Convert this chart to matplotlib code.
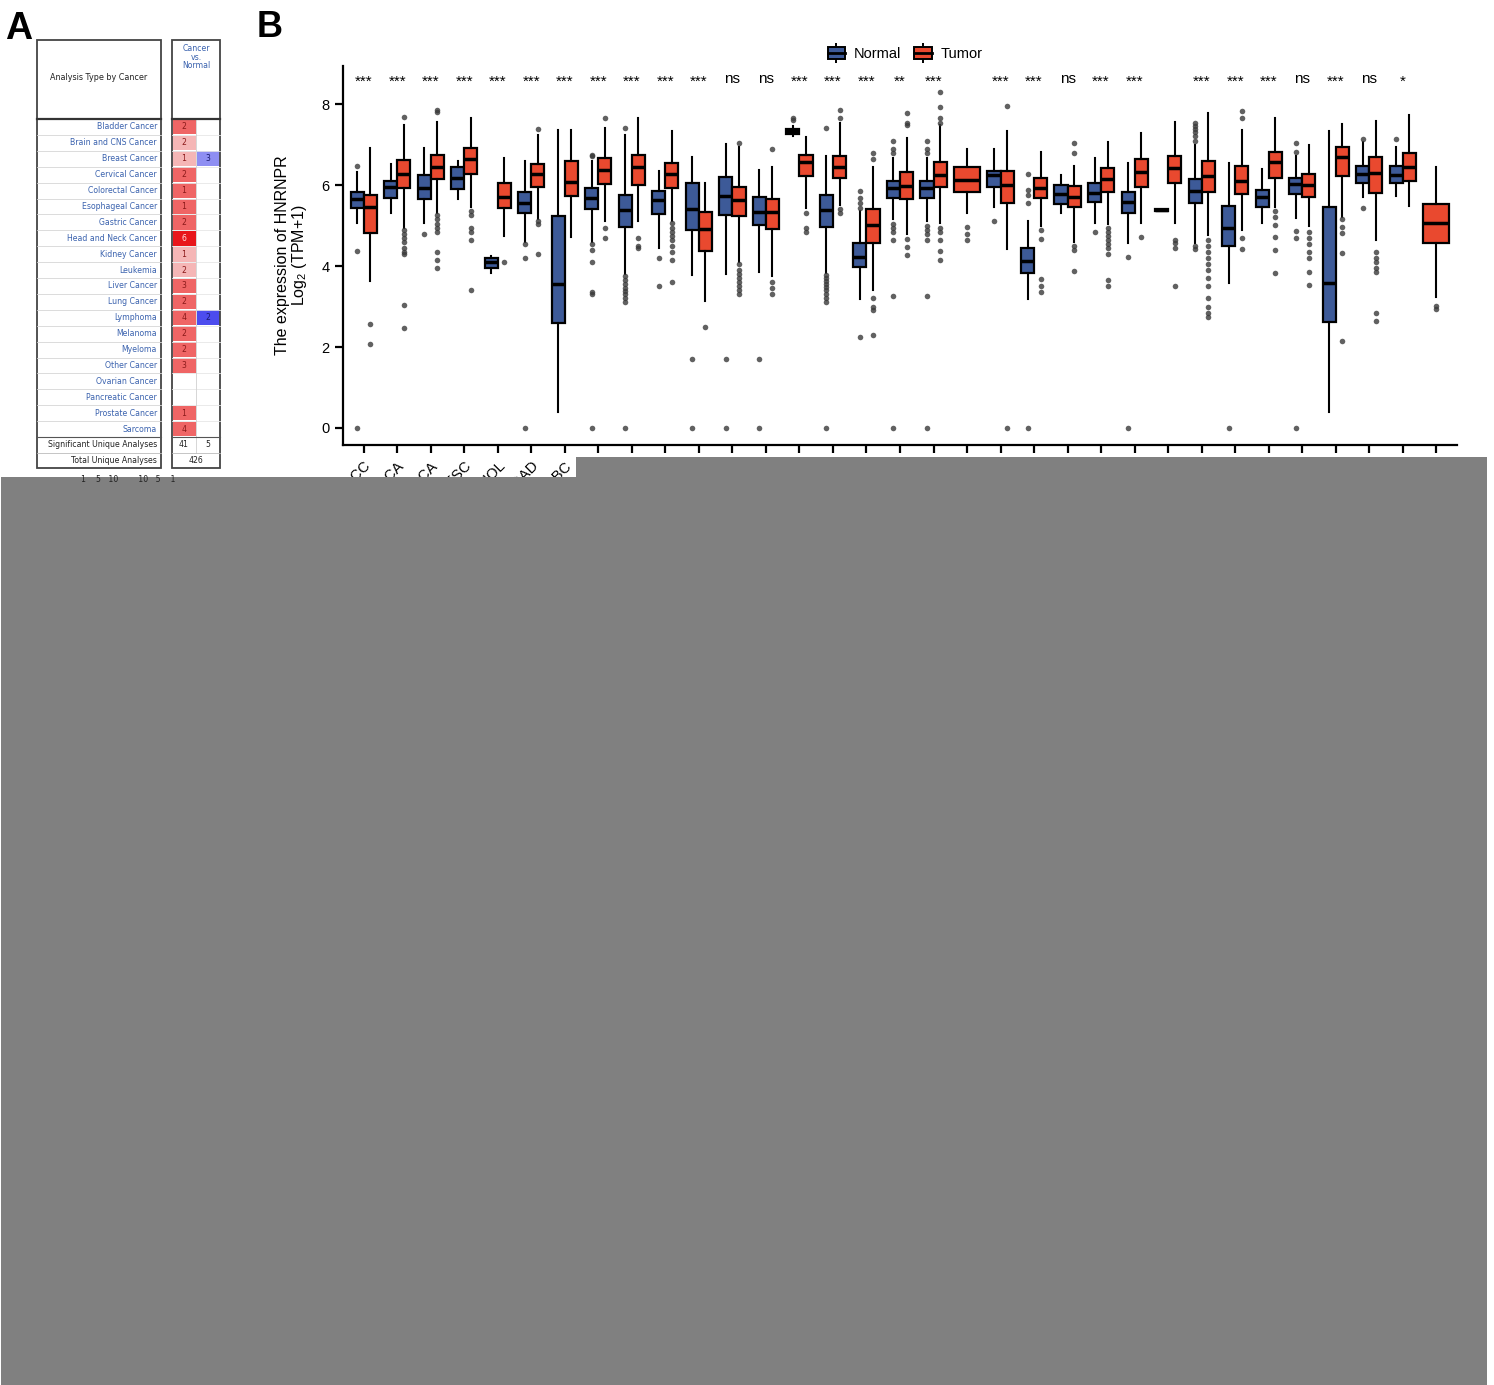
import matplotlib.pyplot as plt
from matplotlib.patches import Rectangle, Patch
from matplotlib.lines import Line2D

plt.rcParams['font.family'] = ['Liberation Sans', 'DejaVu Sans']
plt.rcParams['mathtext.default'] = 'regular'

# ---------------- data: panel B (TCGA boxplots) ----------------
cancers = ['ACC', 'BLCA', 'BRCA', 'CESC', 'CHOL', 'COAD', 'DLBC', 'ESCA', 'GBM', 'HNSC', 'KICH',
           'KIRC', 'KIRP', 'LAML', 'LGG', 'LIHC', 'LUAD', 'LUSC', 'MESO', 'OV', 'PAAD', 'PCPG',
           'PRAD', 'READ', 'SARC', 'SKCM', 'STAD', 'TGCT', 'THCA', 'THYM', 'UCEC', 'UCS', 'UVM']
sig_labels = ['***'] * 11 + ['ns', 'ns', '***', '***', '***', '**', '***', '', '***', '***', 'ns',
                             '***', '***', '', '***', '***', '***', 'ns', '***', 'ns', '*', '']

# [whisker low, Q1, median, Q3, whisker high]
normal_box = [
    [5.06, 5.43, 5.65, 5.83, 6.32], [5.30, 5.68, 5.95, 6.10, 6.52], [5.06, 5.65, 5.93, 6.25, 6.91],
    [5.65, 5.90, 6.17, 6.44, 6.60], [3.83, 3.95, 4.10, 4.20, 4.25], [4.60, 5.30, 5.56, 5.83, 6.60],
    [0.40, 2.60, 3.56, 5.24, 7.35], [4.60, 5.40, 5.68, 5.93, 6.60], [3.80, 4.97, 5.38, 5.75, 7.23],
    [4.44, 5.28, 5.63, 5.85, 6.35], [3.78, 4.89, 5.40, 6.05, 6.69], [3.80, 5.26, 5.73, 6.20, 7.01],
    [3.85, 5.01, 5.33, 5.70, 6.37], [7.22, 7.27, 7.33, 7.38, 7.45], [3.83, 4.97, 5.38, 5.75, 6.72],
    [3.18, 3.98, 4.22, 4.57, 5.35], [5.15, 5.68, 5.93, 6.10, 6.67], [5.10, 5.68, 5.93, 6.10, 6.67],
    None, [5.46, 5.95, 6.25, 6.35, 6.89], [3.18, 3.83, 4.12, 4.44, 5.11], [5.30, 5.53, 5.78, 6.00, 6.25],
    [5.06, 5.58, 5.80, 6.05, 6.67], [4.57, 5.30, 5.58, 5.83, 6.54], [5.36, 5.36, 5.39, 5.42, 5.42],
    [4.57, 5.56, 5.85, 6.15, 6.99], [3.58, 4.50, 4.94, 5.48, 6.54], [5.06, 5.46, 5.70, 5.88, 6.40],
    [5.19, 5.78, 6.02, 6.17, 6.72], [0.40, 2.62, 3.58, 5.46, 7.33], [5.70, 6.05, 6.27, 6.47, 7.06],
    [5.73, 6.05, 6.25, 6.47, 6.94], None,
]
normal_out = [
    [6.47, 4.37, 0], [], [4.8], [], [], [4.55, 4.2, 0], [],
    [6.72, 6.75, 4.55, 4.4, 4.1, 3.35, 3.3, 0],
    [7.4, 3.75, 3.65, 3.55, 3.45, 3.38, 3.3, 3.2, 3.12, 0],
    [4.2, 3.5], [1.7, 0], [1.7, 0], [1.7, 0], [7.6, 7.65],
    [7.41, 3.78, 3.7, 3.62, 3.55, 3.48, 3.4, 3.3, 3.2, 3.12, 0],
    [5.43, 5.56, 5.68, 5.85, 2.25],
    [7.1, 6.9, 6.8, 5.05, 4.95, 4.85, 4.64, 3.26, 0],
    [7.1, 6.9, 6.8, 5.0, 4.9, 4.8, 4.64, 3.26, 0],
    [], [5.11], [6.27, 5.88, 5.75, 5.56, 0], [], [4.84], [4.22, 0], [],
    [7.53, 7.45, 7.38, 7.3, 7.2, 7.1, 4.5, 4.42], [0], [],
    [7.04, 6.81, 4.86, 4.69, 0], [], [7.14, 5.43], [7.14], [],
]
tumor_box = [
    [3.63, 4.81, 5.46, 5.75, 6.91], [4.95, 5.92, 6.27, 6.62, 7.48], [5.30, 6.15, 6.45, 6.75, 7.55],
    [5.45, 6.27, 6.64, 6.91, 7.65], [4.74, 5.43, 5.70, 6.05, 6.67], [5.15, 5.95, 6.27, 6.52, 7.23],
    [4.72, 5.73, 6.08, 6.60, 7.35], [5.10, 6.02, 6.37, 6.67, 7.41], [5.10, 6.00, 6.44, 6.74, 7.65],
    [5.10, 5.93, 6.27, 6.54, 7.33], [3.14, 4.37, 4.91, 5.33, 6.05], [4.10, 5.23, 5.63, 5.95, 6.95],
    [3.75, 4.91, 5.33, 5.65, 6.44], [5.43, 6.22, 6.57, 6.74, 7.19], [5.50, 6.17, 6.44, 6.72, 7.53],
    [3.41, 4.57, 5.01, 5.41, 6.45], [4.79, 5.65, 5.98, 6.32, 7.16], [5.06, 5.95, 6.25, 6.57, 7.48],
    [5.30, 5.83, 6.12, 6.44, 6.89], [4.42, 5.56, 6.00, 6.35, 7.33], [5.00, 5.68, 5.93, 6.17, 6.81],
    [4.60, 5.46, 5.70, 5.98, 6.47], [5.05, 5.83, 6.15, 6.42, 7.06], [5.06, 5.95, 6.32, 6.64, 7.28],
    [5.06, 6.05, 6.42, 6.72, 7.55], [4.77, 5.83, 6.22, 6.59, 7.78], [4.90, 5.78, 6.10, 6.47, 7.36],
    [5.46, 6.17, 6.57, 6.81, 7.65], [5.00, 5.70, 6.00, 6.27, 6.99], [5.21, 6.22, 6.69, 6.94, 7.50],
    [4.64, 5.80, 6.30, 6.69, 7.58], [5.48, 6.10, 6.44, 6.79, 7.73], [3.24, 4.57, 5.06, 5.53, 6.44],
]
tumor_out = [
    [2.56, 2.07],
    [7.68, 4.88, 4.8, 4.7, 4.6, 4.45, 4.35, 4.3, 3.03, 2.48],
    [7.8, 7.85, 5.25, 5.15, 5.05, 4.95, 4.85, 4.35, 4.15, 3.95],
    [5.35, 5.25, 4.95, 4.85, 4.65, 3.4],
    [4.1], [7.38, 5.1, 5.05, 4.3], [], [7.65, 4.95, 4.7], [4.7, 4.5, 4.45],
    [5.06, 4.95, 4.85, 4.75, 4.65, 4.5, 4.35, 4.15, 3.6],
    [2.49], [7.04, 4.05, 3.9, 3.8, 3.7, 3.6, 3.5, 3.4, 3.3], [6.89, 3.6, 3.45, 3.3],
    [5.3, 4.95, 4.85], [7.65, 7.85, 5.4, 5.3], [6.79, 6.64, 3.2, 2.99, 2.91, 2.3],
    [7.48, 7.53, 7.78, 4.67, 4.47, 4.27],
    [8.3, 7.93, 7.65, 7.53, 4.95, 4.84, 4.64, 4.37, 4.15],
    [4.96, 4.79, 4.64], [7.95, 0], [4.89, 4.67, 3.68, 3.51, 3.36],
    [7.04, 6.79, 4.5, 4.4, 3.88],
    [4.95, 4.85, 4.75, 4.65, 4.55, 4.45, 4.3, 3.65, 3.5],
    [4.72], [4.64, 4.57, 4.44, 3.51],
    [4.64, 4.5, 4.35, 4.2, 4.05, 3.9, 3.7, 3.5, 3.2, 3.0, 2.85, 2.74],
    [7.65, 7.83, 4.7, 4.42], [5.35, 5.21, 5.01, 4.72, 4.4, 3.83],
    [4.84, 4.7, 4.55, 4.35, 4.2, 3.85, 3.53], [5.16, 4.96, 4.81, 4.32, 2.15],
    [4.35, 4.2, 4.1, 3.95, 3.85, 2.84, 2.64], [], [3.01, 2.95],
]

# ---------------- data: panel A (Oncomine summary) ----------------
onco_types = ['Bladder Cancer', 'Brain and CNS Cancer', 'Breast Cancer', 'Cervical Cancer',
              'Colorectal Cancer', 'Esophageal Cancer', 'Gastric Cancer', 'Head and Neck Cancer',
              'Kidney Cancer', 'Leukemia', 'Liver Cancer', 'Lung Cancer', 'Lymphoma', 'Melanoma',
              'Myeloma', 'Other Cancer', 'Ovarian Cancer', 'Pancreatic Cancer', 'Prostate Cancer',
              'Sarcoma']
up_counts = [2, 2, 1, 2, 1, 1, 2, 6, 1, 2, 3, 2, 4, 2, 2, 3, None, None, 1, 4]
up_rank = [5, 10, 10, 5, 5, 5, 5, 1, 10, 10, 5, 5, 5, 5, 5, 5, None, None, 5, 5]
down_counts = [None, None, 3, None, None, None, None, None, None, None, None, None, 2,
               None, None, None, None, None, None, None]
down_rank = [None, None, 10, None, None, None, None, None, None, None, None, None, 5,
             None, None, None, None, None, None, None]
sig_up, sig_down, total_analyses = 41, 5, 426

NORMAL_COL = '#3D5A98'
TUMOR_COL = '#E9492F'
RED_SHADE = {1: '#E8161B', 5: '#EF6565', 10: '#F5B6B6'}
BLUE_SHADE = {5: '#4C4CEE', 10: '#8E8EF2'}
LINK = '#3A62AE'

W, H = 1494, 1385
fig = plt.figure(figsize=(W / 100, H / 100), dpi=100)

# ---------------- panel B ----------------
ax = fig.add_axes([343 / W, 1 - 445 / H, (1457 - 343) / W, (445 - 66) / H])

for i in range(len(cancers)):
    groups = [(normal_box[i], normal_out[i], NORMAL_COL), (tumor_box[i], tumor_out[i], TUMOR_COL)]
    present = [g for g in groups if g[0] is not None]
    if len(present) == 2:
        pos, w = [i - 0.195, i + 0.195], 0.39
    else:
        pos, w = [i], 0.78
    for p, (b, o, col) in zip(pos, present):
        st = dict(whislo=b[0], q1=b[1], med=b[2], q3=b[3], whishi=b[4], fliers=o)
        ax.bxp([st], positions=[p], widths=w, patch_artist=True, showcaps=False,
               boxprops=dict(facecolor=col, edgecolor='black', linewidth=1.6),
               medianprops=dict(color='black', linewidth=2.5),
               whiskerprops=dict(color='black', linewidth=1.5),
               flierprops=dict(marker='o', markersize=4, markerfacecolor='#3a3a3a',
                               markeredgecolor='none', alpha=0.8),
               manage_ticks=False)

for i, s in enumerate(sig_labels):
    if s:
        ax.text(i, 8.62 if s == 'ns' else 8.56, s, ha='center', va='center', fontsize=11)

ax.set_xlim(-0.62, len(cancers) - 0.38)
ax.set_ylim(-0.42, 8.94)
ax.set_xticks(range(len(cancers)))
ax.set_xticklabels(cancers, rotation=45, ha='right', va='top', rotation_mode='anchor', fontsize=10)
ax.set_yticks([0, 2, 4, 6, 8])
ax.tick_params(labelsize=10.5, length=6, width=1.6, color='black')
for side in ['top', 'right']:
    ax.spines[side].set_visible(False)
for side in ['left', 'bottom']:
    ax.spines[side].set_linewidth(1.6)
ax.set_ylabel('The expression of HNRNPR\nLog$_2$ (TPM+1)', fontsize=11.5, linespacing=1.0, labelpad=9)


def legend_handle(col):
    whisk = Line2D([], [], color='black', marker='|', markersize=14, mew=1.4, linestyle='none')
    box = Patch(facecolor=col, edgecolor='black', linewidth=1.4)
    med = Line2D([], [], color='black', linewidth=2)
    return (whisk, box, med)


fig.legend([legend_handle(NORMAL_COL), legend_handle(TUMOR_COL)], ['Normal', 'Tumor'],
           loc='center', bbox_to_anchor=(905 / W, 1 - 54 / H), ncol=2, frameon=False, fontsize=10.5,
           handlelength=1.2, handleheight=0.8, handletextpad=0.6, columnspacing=0.9,
           borderaxespad=0, borderpad=0)

# ---------------- overlay: panel A, letters, grey mask ----------------
ov = fig.add_axes([0, 0, 1, 1], zorder=10)
ov.set_xlim(0, W)
ov.set_ylim(H, 0)
ov.axis('off')
ov.patch.set_alpha(0)

tx0, tx1 = 37, 161
cx0, cmid, cx1 = 172, 196, 220
top, head_bot, row_h = 40, 119, 15.9
rows_bot = head_bot + row_h * len(onco_types)
sig_bot = rows_bot + 15.8
tot_bot = sig_bot + 15.4
tfont = ['DejaVu Sans']

for k, name in enumerate(onco_types):
    y0 = head_bot + k * row_h
    yc = y0 + row_h / 2
    ov.text(157, yc, name, ha='right', va='center', fontsize=5.6, color=LINK, family=tfont)
    if up_counts[k] is not None:
        ov.add_patch(Rectangle((cx0 + 1, y0 + 0.6), cmid - cx0 - 1.5, row_h - 1.2,
                               color=RED_SHADE[up_rank[k]], lw=0))
        tc = '#FFE0E0' if up_rank[k] == 1 else '#8B1A1A'
        ov.text((cx0 + cmid) / 2, yc, str(up_counts[k]), ha='center', va='center',
                fontsize=5.6, color=tc, family=tfont)
    if down_counts[k] is not None:
        ov.add_patch(Rectangle((cmid + 0.5, y0 + 0.6), cx1 - cmid - 1, row_h - 1.2,
                               color=BLUE_SHADE[down_rank[k]], lw=0))
        ov.text((cmid + cx1) / 2, yc, str(down_counts[k]), ha='center', va='center',
                fontsize=5.6, color='#1A1A6E', family=tfont)
    if k > 0:
        ov.plot([tx0, tx1], [y0, y0], color='#d6d6d6', lw=0.6)
        ov.plot([cx0, cx1], [y0, y0], color='#e6e6e6', lw=0.6)

ov.plot([cmid, cmid], [head_bot, sig_bot], color='#d0d0d0', lw=0.6)
for xa, xb in [(tx0, tx1), (cx0, cx1)]:
    ov.plot([xa, xb], [head_bot, head_bot], color='#333333', lw=1.6)
    ov.plot([xa, xb], [rows_bot, rows_bot], color='#555555', lw=0.8)
    ov.plot([xa, xb], [sig_bot, sig_bot], color='#bbbbbb', lw=0.6)
    ov.add_patch(Rectangle((xa, top), xb - xa, tot_bot - top, fill=False, ec='#444444', lw=1.3))

ov.text((tx0 + tx1) / 2, 78, 'Analysis Type by Cancer', ha='center', va='center', fontsize=5.8,
        color='#222222', family=tfont)
ov.text(cmid, 44, 'Cancer\nvs.\nNormal', ha='center', va='top', fontsize=5.6, color=LINK,
        linespacing=0.95, family=tfont)
ov.text(157, (rows_bot + sig_bot) / 2, 'Significant Unique Analyses', ha='right', va='center',
        fontsize=5.6, color='#222222', family=tfont)
ov.text(157, (sig_bot + tot_bot) / 2, 'Total Unique Analyses', ha='right', va='center',
        fontsize=5.6, color='#222222', family=tfont)
ov.text((cx0 + cmid) / 2, (rows_bot + sig_bot) / 2, str(sig_up), ha='center', va='center',
        fontsize=5.6, color='#222222', family=tfont)
ov.text((cmid + cx1) / 2, (rows_bot + sig_bot) / 2, str(sig_down), ha='center', va='center',
        fontsize=5.6, color='#222222', family=tfont)
ov.text(cmid, (sig_bot + tot_bot) / 2, str(total_analyses), ha='center', va='center',
        fontsize=5.6, color='#222222', family=tfont)
ov.text(128, 474.5, '1    5   10        10   5    1', ha='center', va='top', fontsize=5.6,
        color='#222222', family=tfont)

ov.text(5, 39, 'A', fontsize=27, fontweight='bold', va='baseline', family=['Liberation Sans'])
ov.text(257, 37, 'B', fontsize=26, fontweight='bold', va='baseline', family=['Liberation Sans'])

ov.add_patch(Rectangle((576, 457), 1487 - 576, 21, color='#808080', lw=0))
ov.add_patch(Rectangle((1, 477), 1486, H - 477, color='#808080', lw=0))

fig.savefig('out.png', dpi=100)
